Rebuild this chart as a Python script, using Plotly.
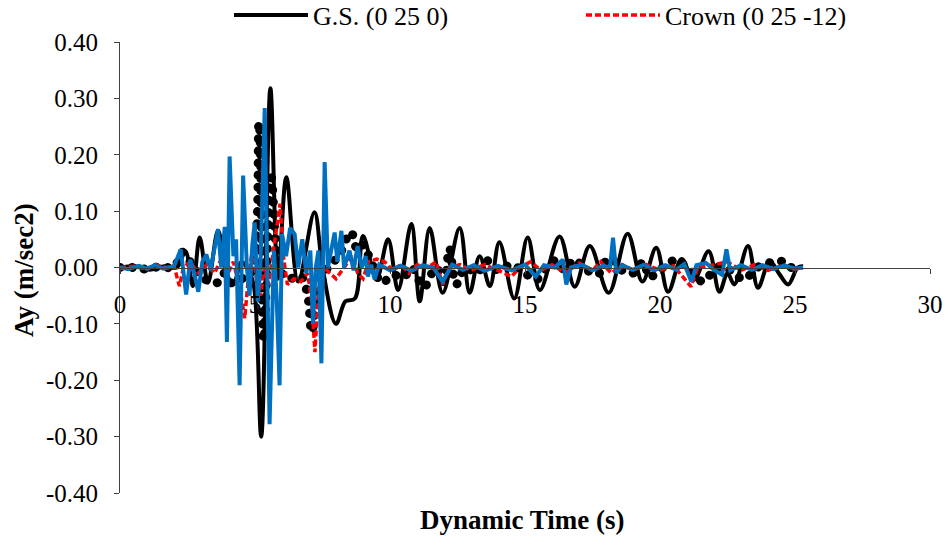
import plotly.graph_objects as go

# ---- data ----
gs_t = [0.0, 0.6, 1.1, 1.6, 2.1, 2.42, 2.7, 2.95, 3.26, 3.63, 3.95, 4.2, 4.5, 4.75, 4.95,
        5.23, 5.57, 5.85, 6.16, 6.6, 7.2, 7.5, 8.0, 8.35, 8.7, 9.0, 9.5, 9.93, 10.3, 10.79,
        11.1, 11.47, 11.95, 12.58, 12.95, 13.32, 13.7, 14.05, 14.6, 15.1, 15.55, 16.28,
        16.84, 17.4, 18.1, 18.8, 19.35, 19.86, 20.3, 20.8, 21.25, 21.8, 22.2, 22.5, 22.75,
        23.26, 23.63, 24.06, 24.4, 24.75, 25.1, 25.3]
gs_v = [0.0, 0.002, -0.004, 0.002, 0.0, 0.029, -0.033, 0.053, -0.027, 0.065, -0.01, -0.03, 0.01, -0.005, -0.03,
        -0.30, 0.318, -0.02, 0.16, -0.025, 0.098, 0.0, -0.10, -0.06, -0.055, 0.056, -0.02, 0.05, -0.04, 0.077,
        -0.06, 0.07, -0.045, 0.07, -0.045, 0.02, -0.033, 0.045, -0.055, 0.053, -0.04, 0.055,
        -0.034, 0.038, -0.045, 0.06, -0.025, 0.035, -0.043, 0.015, -0.022, 0.029, -0.043, -0.01, -0.03,
        0.038, -0.036, 0.011, -0.01, -0.03, 0.0, 0.002]

dot_t = [0.0, 0.5, 1.0, 1.5, 2.0, 2.3, 2.6, 2.9, 3.3, 3.6, 3.85, 4.1, 4.5, 4.85, 5.15, 5.32, 5.6,
         5.9, 6.2, 6.7, 6.95, 7.1, 7.3, 7.7, 8.1, 8.55, 8.8, 9.0, 9.3, 9.7, 10.1, 10.5, 10.8,
         11.25, 11.7, 12.0, 12.2, 12.45, 12.8, 13.2, 13.6, 14.0, 14.5, 15.0, 15.4, 15.8, 16.1,
         16.5, 16.8, 17.3, 17.7, 18.1, 18.6, 19.0, 19.4, 19.6, 20.1, 20.6, 21.1, 21.6, 22.1,
         22.6, 23.1, 23.6, 24.1, 24.5, 24.8, 25.1]
dot_v = [0.0, 0.0, -0.003, 0.002, 0.0, 0.027, 0.01, -0.01, -0.025, -0.027, -0.01, -0.027, -0.02, -0.01, 0.257, -0.13, 0.16,
         0.0, -0.02, -0.015, -0.05, -0.115, -0.05, 0.0, 0.02, 0.063, 0.03, 0.04, 0.01, -0.027, -0.013, -0.018, 0.0,
         -0.035, 0.0, -0.025, 0.034, -0.03, 0.0, -0.01, 0.012, -0.005, 0.005, -0.01, -0.022, 0.0, 0.012,
         -0.005, 0.014, -0.005, -0.012, 0.017, -0.005, -0.01, 0.01, -0.017, 0.0, 0.013, -0.005, -0.025, 0.0,
         -0.005, -0.021, 0.0, 0.009, 0.011, 0.0, 0.005]

crown_t = [0.0, 0.5, 1.0, 1.3, 1.7, 2.0, 2.2, 2.35, 2.6, 2.9, 3.2, 3.5, 3.8, 4.0, 4.2, 4.45, 4.62,
           4.75, 4.9, 5.05, 5.2, 5.35, 5.5, 5.7, 5.93, 6.05, 6.2, 6.45, 6.7, 6.95, 7.1, 7.22, 7.35,
           7.55, 7.8, 8.0, 8.3, 8.6, 8.8, 9.0, 9.2, 9.5, 9.8, 10.1, 10.4, 10.7, 11.0, 11.4, 11.7,
           11.96, 12.2, 12.6, 13.0, 13.5, 14.0, 14.5, 14.8, 15.2, 15.6, 16.0, 16.5, 17.0, 17.5,
           17.8, 18.2, 18.6, 19.0, 19.5, 20.0, 20.5, 21.15, 21.4, 22.0, 22.5, 23.0, 23.5, 24.0,
           24.5, 25.0, 25.3]
crown_v = [0.0, 0.002, -0.003, 0.005, 0.0, 0.003, -0.033, 0.0, 0.01, -0.01, 0.005, -0.01, 0.02, -0.01, 0.01, -0.04, -0.09,
           -0.02, 0.03, -0.02, -0.05, 0.0, -0.03, 0.04, 0.113, 0.02, -0.03, -0.02, -0.025, -0.01, -0.06, -0.15, -0.04,
           0.0, -0.01, -0.02, 0.0, 0.02, -0.01, -0.02, 0.01, 0.015, 0.01, -0.005, 0.005, -0.01, 0.005, 0.0, 0.01,
           -0.03, 0.0, 0.005, -0.005, 0.005, -0.005, -0.016, 0.0, 0.01, -0.005, 0.005, -0.01, 0.008, -0.005,
           0.01, -0.01, 0.005, -0.005, 0.005, -0.005, 0.003, -0.034, 0.0, 0.005, 0.01, -0.005, 0.005, -0.005,
           0.003, -0.003, 0.0]

blue_t = [0.0, 0.3, 0.7, 1.0, 1.3, 1.6, 2.0, 2.25, 2.45, 2.6, 2.75, 2.9, 3.05, 3.2, 3.35, 3.5, 3.63,
          3.75, 3.88, 3.96, 4.06, 4.2, 4.3, 4.43, 4.56, 4.7, 4.8, 4.9, 4.99, 5.1, 5.2, 5.36, 5.54,
          5.7, 5.8, 5.91, 6.0, 6.15, 6.3, 6.47, 6.6, 6.75, 6.9, 7.05, 7.15, 7.25, 7.35, 7.46, 7.58,
          7.7, 7.85, 7.95, 8.05, 8.2, 8.3, 8.5, 8.65, 8.8, 8.95, 9.1, 9.18, 9.3, 9.43, 9.6, 10.0,
          10.4, 10.8, 11.2, 11.6, 11.95, 12.3, 12.7, 13.1, 13.5, 14.0, 14.5, 15.0, 15.4, 15.7, 16.1,
          16.4, 16.53, 16.7, 17.1, 17.5, 17.9, 18.15, 18.26, 18.38, 18.6, 19.0, 19.4, 19.8, 20.2,
          20.6, 20.9, 21.16, 21.35, 21.7, 22.0, 22.3, 22.46, 22.6, 23.0, 23.4, 23.8, 24.2, 24.6,
          25.0, 25.3]
blue_v = [0.0, -0.003, 0.003, -0.002, 0.004, -0.002, 0.002, 0.032, -0.048, 0.014, -0.01, -0.043, 0.01, 0.023, -0.005, 0.03, 0.068,
          0.0, 0.072, -0.132, 0.197, 0.02, 0.05, -0.209, 0.163, 0.0, -0.05, 0.04, 0.08, -0.06, 0.0, 0.283, -0.278,
          0.03, -0.05, -0.209, 0.06, 0.02, 0.07, 0.059, 0.0, 0.05, -0.01, 0.03, -0.1, 0.0, 0.03, -0.17, 0.187,
          0.0, 0.04, 0.062, 0.01, 0.065, 0.0, 0.03, -0.005, 0.038, 0.0, 0.02, -0.016, 0.005, -0.021, 0.005, -0.005,
          0.003, -0.006, 0.004, 0.0, -0.025, 0.005, -0.004, 0.004, -0.006, 0.003, -0.005, 0.005, -0.016, 0.004, 0.0,
          0.014, -0.03, 0.0, 0.005, -0.005, 0.003, 0.0, 0.053, -0.01, 0.004, -0.004, 0.005, -0.005, 0.004,
          -0.004, 0.006, -0.025, 0.004, 0.008, -0.004, -0.013, 0.032, -0.005, 0.004, -0.004, 0.004, -0.003, 0.004,
          -0.002, 0.0]

x_ticks = [0, 5, 10, 15, 20, 25, 30]
y_ticks = [-0.4, -0.3, -0.2, -0.1, 0.0, 0.1, 0.2, 0.3, 0.4]
y_ticktext = ["%.2f" % v for v in y_ticks]  # plain hyphen minus, as in the reference

FONT = "Liberation Serif"

fig = go.Figure()
fig.add_trace(go.Scatter(x=gs_t, y=gs_v, mode="lines", name="G.S. (0 25 0)",
                         line=dict(color="#000000", width=4, shape="spline", smoothing=1.0)))
fig.add_trace(go.Scatter(x=dot_t, y=dot_v, mode="lines", name="dotted", showlegend=False,
                         line=dict(color="#000000", width=9, dash="0.1px,12px", shape="spline", smoothing=1.0)))
fig.add_trace(go.Scatter(x=crown_t, y=crown_v, mode="lines", name="Crown (0 25 -12)",
                         line=dict(color="#FF0000", width=3.5, dash="6px,3px")))
fig.add_trace(go.Scatter(x=blue_t, y=blue_v, mode="lines", name="blue", showlegend=False,
                         line=dict(color="#0070C0", width=4)))

fig.update_layout(
    width=946, height=537,
    margin=dict(l=120, r=16, t=42, b=44, autoexpand=False),
    paper_bgcolor="white", plot_bgcolor="white",
    font=dict(family=FONT, size=22, color="#000000"),
    showlegend=True,
    legend=dict(orientation="h", xref="container", yref="container",
                x=229 / 946, y=1 - 15 / 537, xanchor="left", yanchor="middle",
                font=dict(family=FONT, size=26), itemwidth=74,
                entrywidth=263, bgcolor="rgba(0,0,0,0)"),
    xaxis=dict(range=[0, 30], tickvals=x_ticks, ticktext=[str(v) for v in x_ticks],
               anchor="free", position=0.5, showline=True, linecolor="#404040", linewidth=1,
               ticks="outside", ticklen=5, tickcolor="#404040", showgrid=False, zeroline=False,
               tickfont=dict(family=FONT, size=25), ticklabelstandoff=9),
    yaxis=dict(range=[-0.4, 0.4], tickvals=y_ticks, ticktext=y_ticktext,
               showline=True, linecolor="#404040", linewidth=1, ticks="outside", ticklen=5,
               tickcolor="#404040", showgrid=False, zeroline=False,
               tickfont=dict(family=FONT, size=25), ticklabelstandoff=11),
    annotations=[
        dict(text="<b>Dynamic Time (s)</b>", xref="paper", yref="paper", x=(522 - 120) / 810,
             y=(493 - 520) / 451, xanchor="center", yanchor="middle", showarrow=False,
             font=dict(family=FONT, size=27)),
        dict(text="<b>Ay (m/sec2)</b>", xref="paper", yref="paper", x=(24 - 120) / 810, y=(493 - 270) / 451,
             xanchor="center", yanchor="middle", textangle=-90, showarrow=False,
             font=dict(family=FONT, size=27)),
    ],
)

# round line caps so the dotted series is drawn as round dots
post = """
var gd = document.getElementById('{plot_id}');
function roundDots() {
  var traces = gd.querySelectorAll('.scatterlayer .trace');
  if (traces.length > 1) {
    traces[1].querySelectorAll('path.js-line').forEach(function (p) {
      p.style.strokeLinecap = 'round';
    });
  }
}
roundDots();
gd.on('plotly_afterplot', roundDots);
"""

fig.write_html("out.html", post_script=post)
